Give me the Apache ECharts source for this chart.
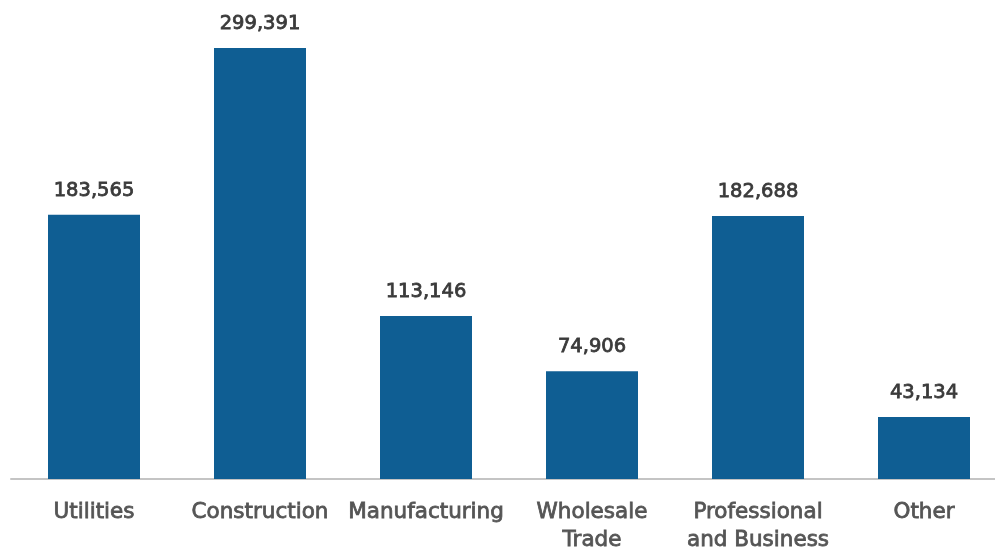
<!DOCTYPE html>
<html>
<head>
<meta charset="utf-8">
<script src="https://cdn.jsdelivr.net/npm/echarts@6/dist/echarts.min.js"></script>
<style>html,body{margin:0;padding:0;background:#fff;}#c{width:995px;height:548px;}</style>
</head>
<body>
<div id="c"></div>
<script>
const categories = ["Utilities", "Construction", "Manufacturing", "Wholesale\nTrade", "Professional\nand Business", "Other"];
const values = [183565, 299391, 113146, 74906, 182688, 43134];

const chart = echarts.init(document.getElementById('c'), null, {renderer: 'canvas'});
chart.setOption({
  animation: false,
  backgroundColor: '#ffffff',
  grid: {left: 11, right: -12, top: 47, bottom: 69, containLabel: false, outerBoundsMode: 'none'},
  xAxis: {
    type: 'category',
    data: categories,
    axisLine: {lineStyle: {color: '#c4c4c4', width: 2}},
    axisTick: {show: false},
    axisLabel: {
      color: '#555555', fontSize: 21.5, fontFamily: 'DejaVu Sans', fontWeight: 'normal',
      textBorderColor: '#555555', textBorderWidth: 0.8,
      margin: 19, lineHeight: 28, interval: 0
    }
  },
  yAxis: {
    type: 'value', min: 0, max: 300000, show: false,
    splitLine: {show: false}
  },
  series: [{
    type: 'bar',
    data: values,
    barWidth: 92,
    itemStyle: {color: '#0f5e93'},
    label: {
      show: true, position: 'top', distance: 14,
      color: '#3a3a3a', fontSize: 19.5, fontFamily: 'DejaVu Sans', fontWeight: 'normal',
      textBorderColor: '#3a3a3a', textBorderWidth: 0.8,
      formatter: p => p.value.toLocaleString('en-US')
    }
  }]
});
</script>
</body>
</html>
